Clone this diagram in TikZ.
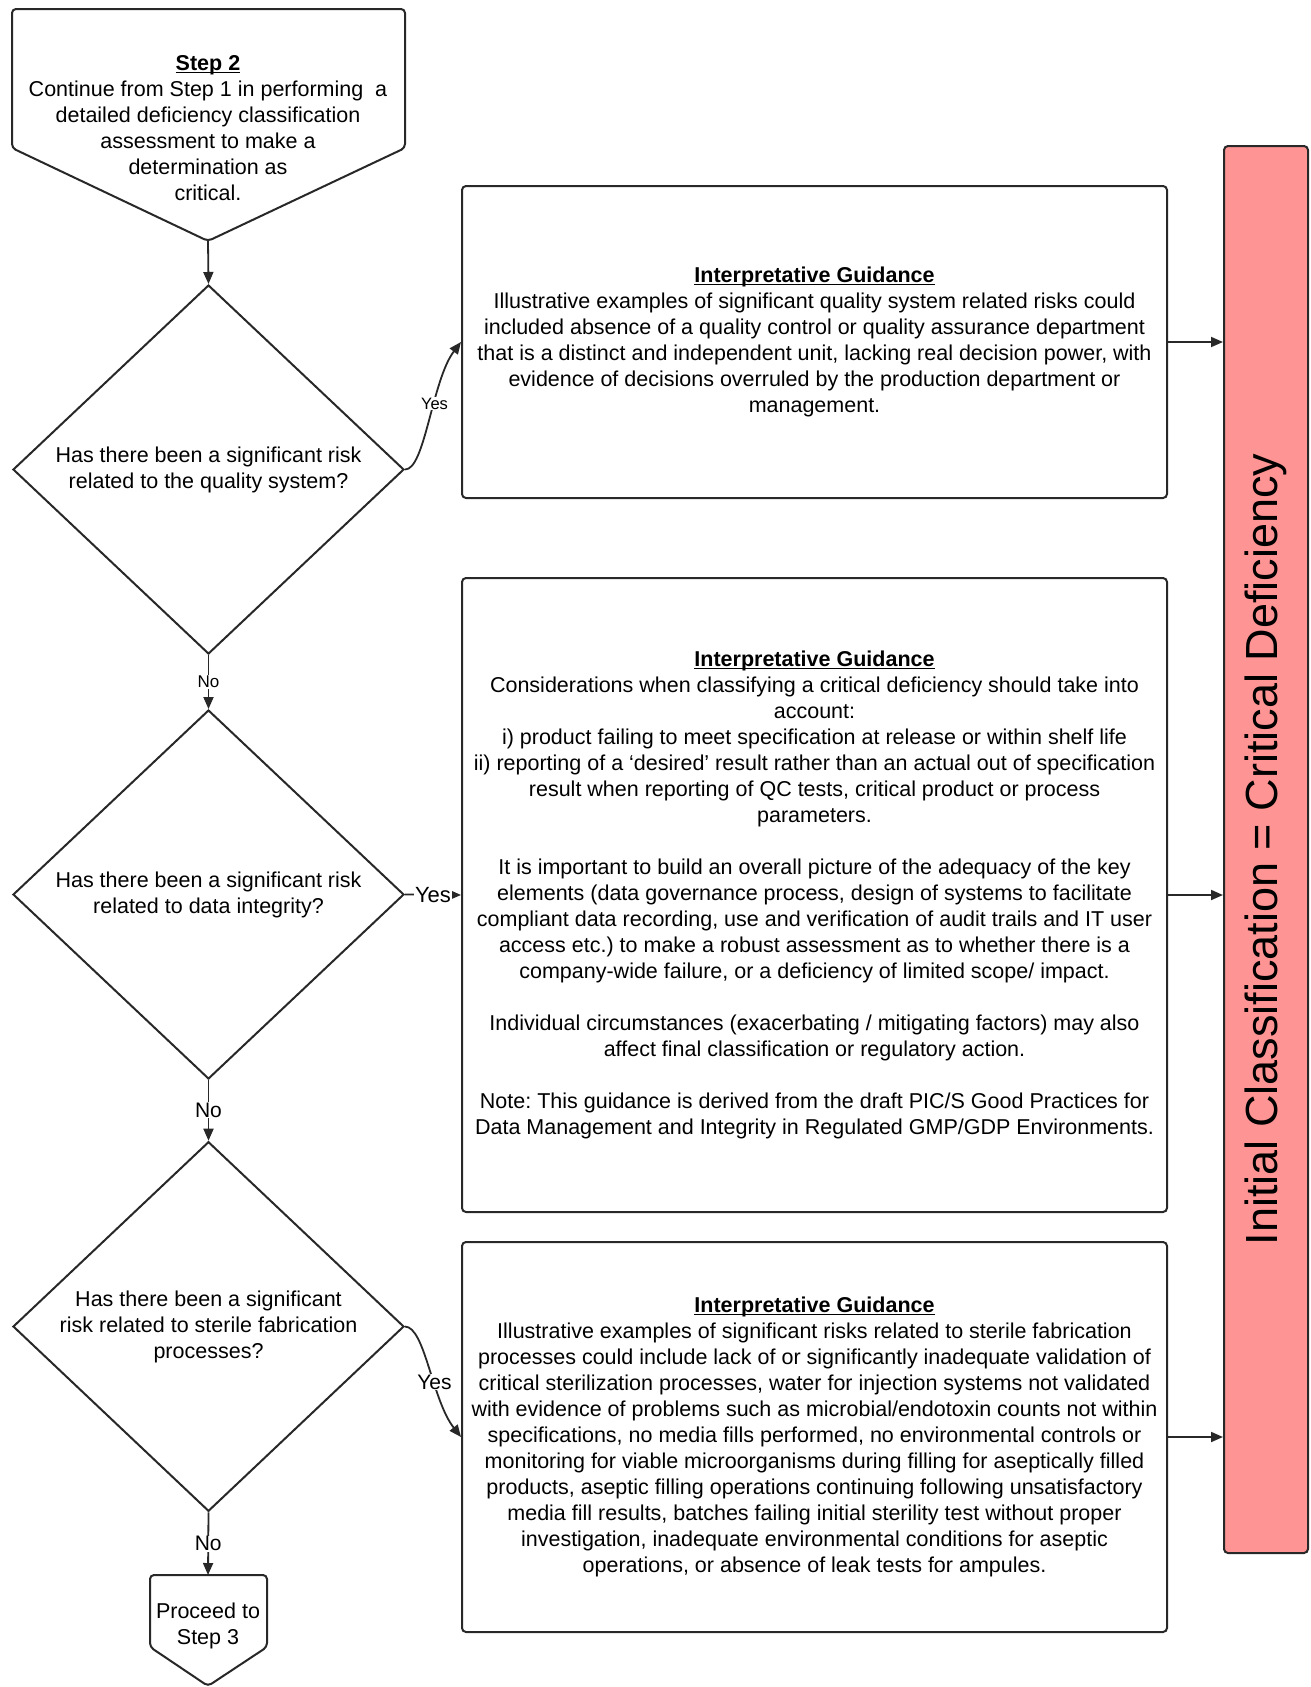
\documentclass[tikz,border=0pt]{standalone}
\usepackage{fontspec}
\setmainfont{Liberation Sans}
\usetikzlibrary{shapes.geometric,arrows.meta}
\definecolor{redfill}{RGB}{255,148,148}
\definecolor{edge}{RGB}{40,40,40}
\newcommand{\ulhead}[1]{\underline{\smash{\textbf{#1}}}\vphantom{\textbf{#1}}}
\frenchspacing
\begin{document}
\begin{tikzpicture}[x=1pt,y=-1pt,
  txt/.style={font=\fontsize{21.5}{26}\selectfont, align=center, text=black},
  gbox/.style={draw=edge, line width=2pt, rounded corners=4pt, fill=white, minimum width=705pt, inner sep=0pt, txt},
  dec/.style={diamond, draw=edge, line width=2pt, minimum width=391pt, minimum height=369pt, inner sep=0pt, txt},
  shapeline/.style={draw=edge, line width=2pt, rounded corners=4pt, fill=white},
  conn/.style={draw=edge, line width=1.8pt, -{Triangle[length=12pt,width=10pt]}},
  lbl/.style={fill=white, inner sep=0.8pt, text=black}
]
\useasboundingbox (0,0) rectangle (1310,1687);

% Step 2 off-page shape
\draw[shapeline] (12,9) -- (405,9) -- (405,148) -- (208,241) -- (12,148) -- cycle;
\coordinate (s2tip) at (208,241);
\node[txt] (s2) at (208,128) {\ulhead{Step 2}\\Continue from Step 1 in performing\ \ a\\detailed deficiency classification\\assessment to make a\\determination as\\critical.};

% Decisions
\node[dec] (d1) at (208.5,469.5) {Has there been a significant risk\\related to the quality system?};
\node[dec] (d2) at (208.5,894.5) {Has there been a significant risk\\related to data integrity?};
\node[dec] (d3) at (208.5,1326.5) {Has there been a significant\\risk related to sterile fabrication\\processes?};

% Proceed shape
\draw[shapeline] (150,1575) -- (267,1575) -- (267,1647) -- (208,1686) -- (150,1647) -- cycle;
\coordinate (ptop) at (208,1575);
\node[txt] (proc) at (208,1626) {Proceed to\\Step 3};

% Guidance boxes
\node[gbox, minimum height=312pt] (b1) at (814.5,342) {\ulhead{Interpretative Guidance}\\
Illustrative examples of significant quality system related risks could\\
included absence of a quality control or quality assurance department\\
that is a distinct and independent unit, lacking real decision power, with\\
evidence of decisions overruled by the production department or\\
management.};

\node[gbox, minimum height=634pt] (b2) at (814.5,895) {\ulhead{Interpretative Guidance}\\
Considerations when classifying a critical deficiency should take into\\
account:\\
i) product failing to meet specification at release or within shelf life\\
ii) reporting of a ‘desired’ result rather than an actual out of specification\\
result when reporting of QC tests, critical product or process\\
parameters.\\[26pt]
It is important to build an overall picture of the adequacy of the key\\
elements (data governance process, design of systems to facilitate\\
compliant data recording, use and verification of audit trails and IT user\\
access etc.) to make a robust assessment as to whether there is a\\
company-wide failure, or a deficiency of limited scope/ impact.\\[26pt]
Individual circumstances (exacerbating / mitigating factors) may also\\
affect final classification or regulatory action.\\[26pt]
Note: This guidance is derived from the draft PIC/S Good Practices for\\
Data Management and Integrity in Regulated GMP/GDP Environments.};

\node[gbox, minimum height=390pt] (b3) at (814.5,1437) {\ulhead{Interpretative Guidance}\\
Illustrative examples of significant risks related to sterile fabrication\\
processes could include lack of or significantly inadequate validation of\\
critical sterilization processes, water for injection systems not validated\\
with evidence of problems such as microbial/endotoxin counts not within\\
specifications, no media fills performed, no environmental controls or\\
monitoring for viable microorganisms during filling for aseptically filled\\
products, aseptic filling operations continuing following unsatisfactory\\
media fill results, batches failing initial sterility test without proper\\
investigation, inadequate environmental conditions for aseptic\\
operations, or absence of leak tests for ampules.};

% Result bar
\node[draw=edge, line width=2pt, rounded corners=4pt, fill=redfill, minimum width=84pt, minimum height=1407pt, inner sep=0pt] (red) at (1266,849.5) {};
\node[rotate=90, font=\fontsize{45}{52}\selectfont, text=black] (redtxt) at (red.center) {Initial Classification = Critical Deficiency};

% Connectors
\draw[conn] (s2tip) -- (d1.north);
\draw[conn] (d1.south) -- node[lbl, font=\fontsize{17}{20}\selectfont] {No} (d2.north);
\draw[conn] (d2.south) -- node[lbl, font=\fontsize{21}{24}\selectfont] {No} (d3.north);
\draw[conn] (d3.south) -- node[lbl, font=\fontsize{21}{24}\selectfont] {No} (ptop);

\draw[conn] (d1.east) .. controls (425,470) and (432,380) .. (b1.west)
  node[lbl, pos=0.6, font=\fontsize{16.5}{19}\selectfont] {Yes};
\draw[conn] (d2.east) -- node[lbl, font=\fontsize{22}{25}\selectfont] {Yes} (b2.west);
\draw[conn] (d3.east) .. controls (425,1327) and (432,1400) .. (b3.west)
  node[lbl, pos=0.6, font=\fontsize{21}{24}\selectfont] {Yes};

\draw[conn] (b1.east) -- (b1.east -| red.west);
\draw[conn] (b2.east) -- (b2.east -| red.west);
\draw[conn] (b3.east) -- (b3.east -| red.west);
\end{tikzpicture}
\end{document}
